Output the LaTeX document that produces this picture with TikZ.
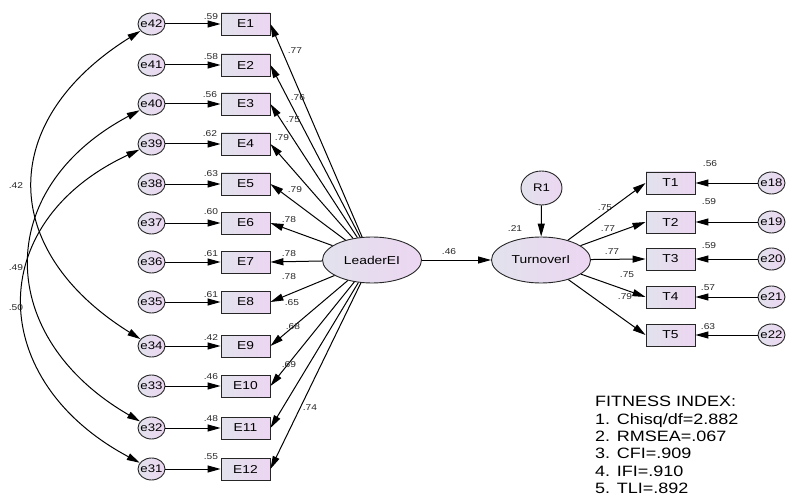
\documentclass[tikz,border=0pt]{standalone}
\usepackage{fontspec}
\setmainfont{Liberation Sans}[FakeStretch=1.2]
\usetikzlibrary{arrows.meta, shapes.geometric}

\definecolor{fillL}{RGB}{226,226,236}
\definecolor{fillR}{RGB}{236,214,242}

\tikzset{
    obs/.style={rectangle, draw=black!85, line width=0.9pt, left color=fillL, right color=fillR, minimum width=49pt, minimum height=22pt, inner sep=0pt, font=\fontsize{11.5}{12}\selectfont},
    err/.style={ellipse, draw=black!85, line width=0.9pt, left color=fillL, right color=fillR, minimum width=27pt, minimum height=22pt, inner xsep=-2pt, inner ysep=0pt, font=\fontsize{11}{12}\selectfont},
    lat/.style={ellipse, draw=black!85, line width=0.9pt, left color=fillL, right color=fillR, minimum width=99pt, minimum height=46pt, inner sep=0pt, font=\fontsize{11.5}{12}\selectfont},
    arr/.style={-{Triangle[length=13pt,width=7pt]}, line width=1pt},
    cov/.style={{Triangle[length=13pt,width=7pt]}-{Triangle[length=13pt,width=7pt]}, line width=1pt},
    coef/.style={inner sep=0pt, font=\fontsize{8.5}{9}\selectfont, text=black!85}
}

\begin{document}
\begin{tikzpicture}[x=1pt, y=-1pt]
        \useasboundingbox (0,0) rectangle (790,500);

        \node[obs] at (245.5,24)  (E1)  {E1};
        \node[obs] at (245.5,65)  (E2)  {E2};
        \node[obs] at (245.5,104) (E3)  {E3};
        \node[obs] at (245.5,144) (E4)  {E4};
        \node[obs] at (245.5,184) (E5)  {E5};
        \node[obs] at (245.5,223) (E6)  {E6};
        \node[obs] at (245.5,262) (E7)  {E7};
        \node[obs] at (245.5,302) (E8)  {E8};
        \node[obs] at (245.5,346) (E9)  {E9};
        \node[obs] at (245.5,386) (E10) {E10};
        \node[obs] at (245.5,428) (E11) {E11};
        \node[obs] at (245.5,469) (E12) {E12};

        \node[err] at (151.5,24)  (e42) {e42};
        \node[err] at (151.5,65)  (e41) {e41};
        \node[err] at (151.5,104) (e40) {e40};
        \node[err] at (151.5,144) (e39) {e39};
        \node[err] at (151.5,184) (e38) {e38};
        \node[err] at (151.5,223) (e37) {e37};
        \node[err] at (151.5,262) (e36) {e36};
        \node[err] at (151.5,302) (e35) {e35};
        \node[err] at (151.5,346) (e34) {e34};
        \node[err] at (151.5,386) (e33) {e33};
        \node[err] at (151.5,428) (e32) {e32};
        \node[err] at (151.5,469) (e31) {e31};

        \node[lat] at (372,260) (lead) {LeaderEI};
        \node[lat] at (541,260) (turn) {TurnoverI};
        \node[err, minimum width=41pt, minimum height=34pt] at (541.5,188) (R1) {R1};

        \node[obs] at (670.5,183) (T1) {T1};
        \node[obs] at (670.5,222) (T2) {T2};
        \node[obs] at (670.5,259) (T3) {T3};
        \node[obs] at (670.5,297) (T4) {T4};
        \node[obs] at (670.5,335) (T5) {T5};

        \node[err] at (771.5,183) (e18) {e18};
        \node[err] at (771.5,222) (e19) {e19};
        \node[err] at (771.5,259) (e20) {e20};
        \node[err] at (771.5,297) (e21) {e21};
        \node[err] at (771.5,335) (e22) {e22};

        \draw [arr] (e42) -- (E1);\draw [arr] (e41) -- (E2);\draw [arr] (e40) -- (E3);\draw [arr] (e39) -- (E4);
        \draw [arr] (e38) -- (E5);\draw [arr] (e37) -- (E6);\draw [arr] (e36) -- (E7);\draw [arr] (e35) -- (E8);
        \draw [arr] (e34) -- (E9);\draw [arr] (e33) -- (E10);\draw [arr] (e32) -- (E11);\draw [arr] (e31) -- (E12);

        \draw [arr] (lead) -- (E1.east);\draw [arr] (lead) -- (E2.east);\draw [arr] (lead) -- (E3.east);\draw [arr] (lead) -- (E4.east);
        \draw [arr] (lead) -- (E5.east);\draw [arr] (lead) -- (E6.east);\draw [arr] (lead) -- (E7.east);\draw [arr] (lead) -- (E8.east);
        \draw [arr] (lead) -- (E9.east);\draw [arr] (lead) -- (E10.east);\draw [arr] (lead) -- (E11.east);\draw [arr] (lead) -- (E12.east);

        \draw [arr] (lead) -- (turn);
        \draw [arr] (R1) -- (turn);

        \draw [arr] (turn) -- (T1.west);\draw [arr] (turn) -- (T2.west);\draw [arr] (turn) -- (T3.west);
        \draw [arr] (turn) -- (T4.west);\draw [arr] (turn) -- (T5.west);

        \draw [arr] (e18) -- (T1);\draw [arr] (e19) -- (T2);\draw [arr] (e20) -- (T3);
        \draw [arr] (e21) -- (T4);\draw [arr] (e22) -- (T5);

        \draw [cov] (e42) to[out=212, in=148, looseness=1.4] (e34);
        \draw [cov] (e40) to[out=208, in=150, looseness=1.38] (e32);
        \draw [cov] (e39) to[out=205, in=152, looseness=1.42] (e31);

        \node[coef] at (211,17)  (r1)  {.59};
        \node[coef] at (211,57)  (r2)  {.58};
        \node[coef] at (210,95)  (r3)  {.56};
        \node[coef] at (210,134) (r4)  {.62};
        \node[coef] at (211,174) (r5)  {.63};
        \node[coef] at (211,212) (r6)  {.60};
        \node[coef] at (211,254) (r7)  {.61};
        \node[coef] at (211,295) (r8)  {.61};
        \node[coef] at (211,338) (r9)  {.42};
        \node[coef] at (211,377) (r10) {.46};
        \node[coef] at (211,419) (r11) {.48};
        \node[coef] at (211,457) (r12) {.55};

        \node[coef] at (295,51)  (w1)  {.77};
        \node[coef] at (298,98)  (w2)  {.76};
        \node[coef] at (293,120) (w3)  {.75};
        \node[coef] at (282,138) (w4)  {.79};
        \node[coef] at (295,190) (w5)  {.79};
        \node[coef] at (289,220) (w6)  {.78};
        \node[coef] at (289,254) (w7)  {.78};
        \node[coef] at (289,277) (w8)  {.78};
        \node[coef] at (292,303) (w9)  {.65};
        \node[coef] at (293,327) (w10) {.68};
        \node[coef] at (289,365) (w11) {.69};
        \node[coef] at (310,408) (w12) {.74};

        \node[coef] at (449,252) (b1) {.46};
        \node[coef] at (515,229) (rt) {.21};

        \node[coef] at (605,208) (v1) {.75};
        \node[coef] at (608,229) (v2) {.77};
        \node[coef] at (612,252) (v3) {.77};
        \node[coef] at (627,275) (v4) {.75};
        \node[coef] at (625,297) (v5) {.79};

        \node[coef] at (710,164) (s1) {.56};
        \node[coef] at (709,202) (s2) {.59};
        \node[coef] at (709,246) (s3) {.59};
        \node[coef] at (708,288) (s4) {.57};
        \node[coef] at (708,327) (s5) {.63};

        \node[coef] at (16,186) (c1) {.42};
        \node[coef] at (16,268) (c2) {.49};
        \node[coef] at (16,308) (c3) {.50};

        \node[anchor=north west, align=left, inner sep=0pt, font=\fontsize{15}{17.4}\selectfont] at (595,396) (fit)
            {FITNESS INDEX:\\1. Chisq/df=2.882\\2. RMSEA=.067\\3. CFI=.909\\4. IFI=.910\\5. TLI=.892};
    \end{tikzpicture}
\end{document}
